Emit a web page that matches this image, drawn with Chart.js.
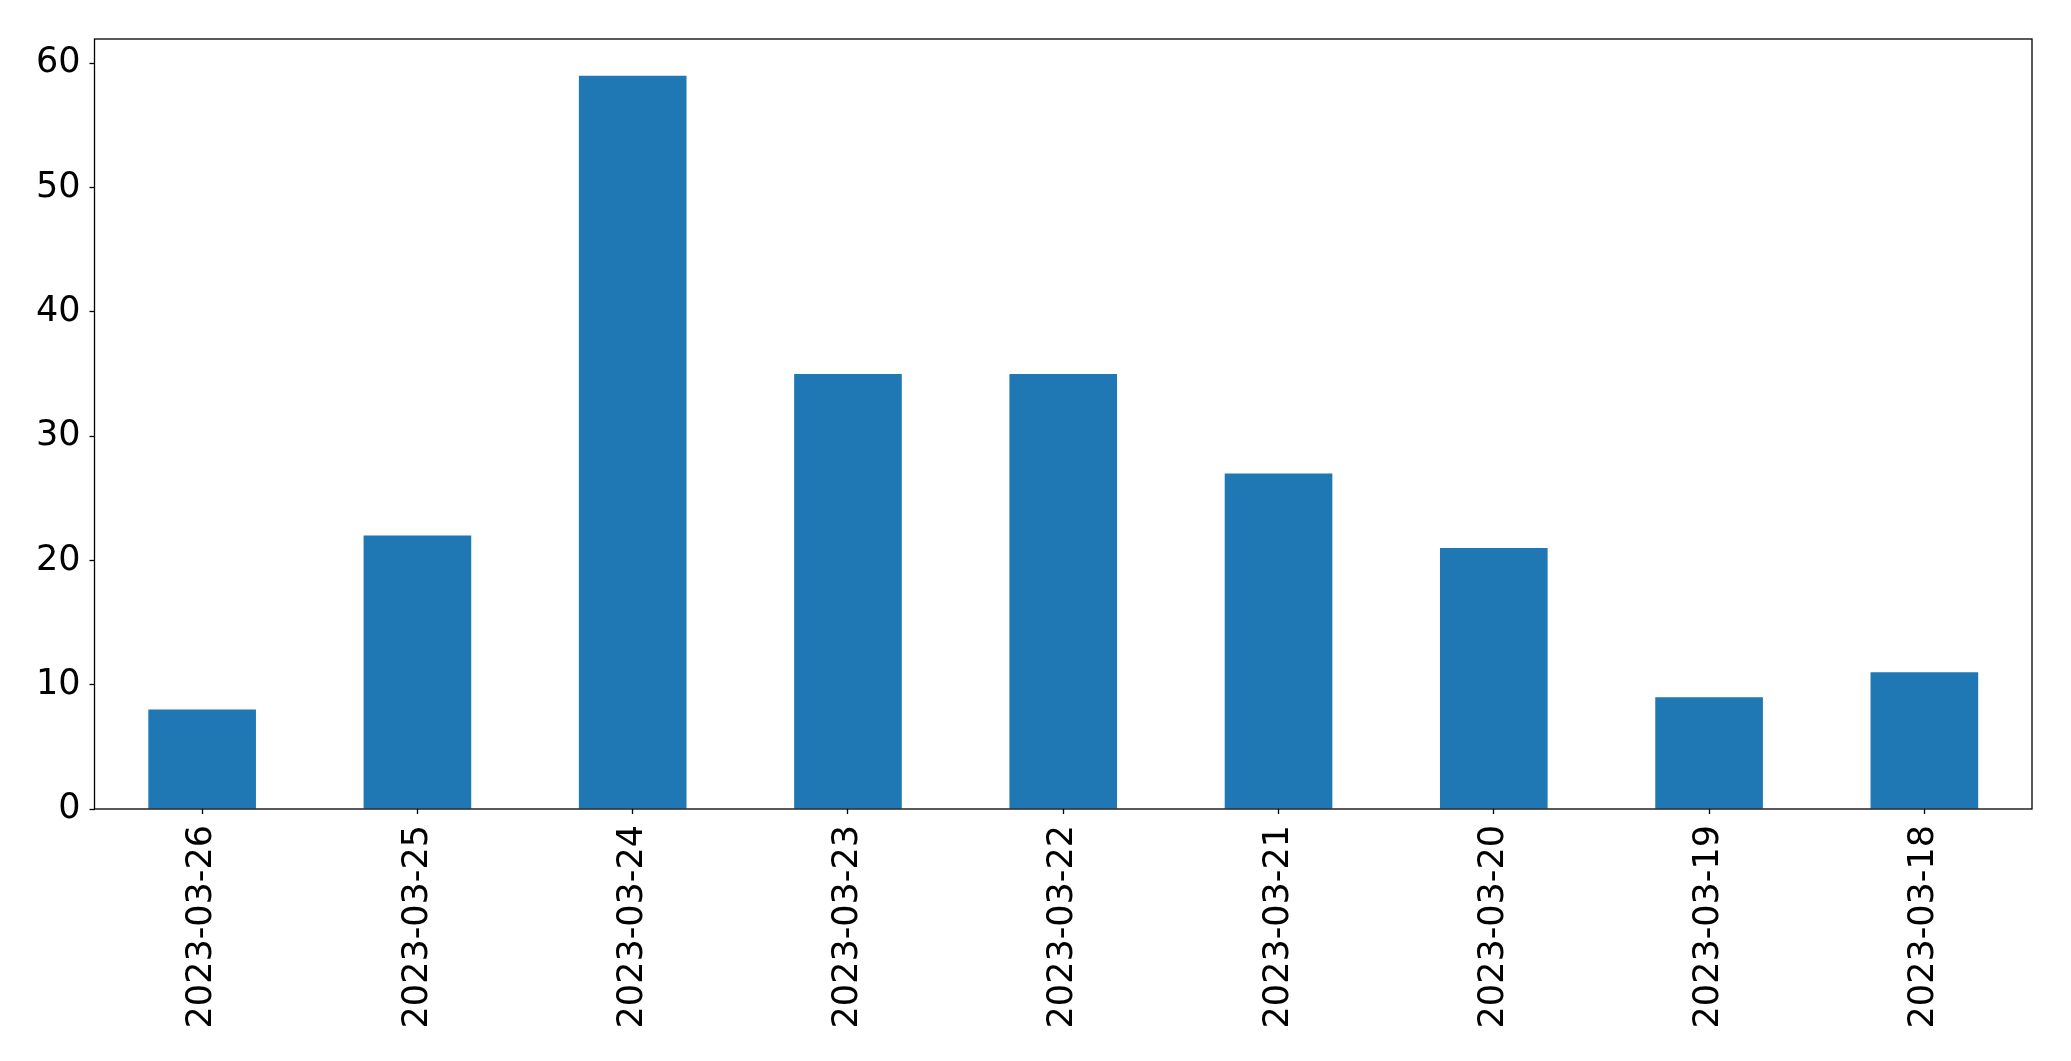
<!DOCTYPE html>
<html>
<head>
  <title>Bar chart</title>
  <script src="https://cdn.jsdelivr.net/npm/chart.js"></script>
  <style>
    html, body { margin: 0; padding: 0; background: #ffffff; }
    #wrap { width: 2071px; height: 1061px; }
  </style>
</head>
<body>
  <div id="wrap"><canvas id="myChart"></canvas></div>
  <script>
    // datos
    var fechas = ['2023-03-26', '2023-03-25', '2023-03-24', '2023-03-23', '2023-03-22',
                  '2023-03-21', '2023-03-20', '2023-03-19', '2023-03-18'];
    var valores = [8, 22, 59, 35, 35, 27, 21, 9, 11];
    var ticksY = [0, 10, 20, 30, 40, 50, 60];

    var fuente = { family: 'DejaVu Sans', size: 35 };

    // marco negro alrededor del area del grafico
    var marco = {
      id: 'marco',
      afterDraw: function(chart) {
        var a = chart.chartArea;
        var ctx = chart.ctx;
        ctx.save();
        ctx.strokeStyle = '#000000';
        ctx.lineWidth = 1.3;
        ctx.strokeRect(a.left, a.top, a.right - a.left, a.bottom - a.top);
        ctx.restore();
      }
    };

    var ctx = document.getElementById('myChart').getContext('2d');
    new Chart(ctx, {
      type: 'bar',
      data: {
        labels: fechas,
        datasets: [{
          data: valores,
          backgroundColor: '#1f77b4',
          borderWidth: 0,
          barPercentage: 0.5,
          categoryPercentage: 1.0
        }]
      },
      options: {
        responsive: true,
        maintainAspectRatio: false,
        animation: false,
        layout: { padding: { left: 0, right: 39, top: 39, bottom: 0 } },
        plugins: { legend: { display: false }, tooltip: { enabled: false } },
        scales: {
          x: {
            offset: true,
            grid: { display: true, offset: false, drawOnChartArea: false, drawTicks: true, tickLength: 5, tickColor: '#000000', tickWidth: 1.3 },
            border: { display: false },
            ticks: { color: '#000000', font: fuente, maxRotation: 90, minRotation: 90, padding: 11, autoSkip: false },
            afterFit: function(scale) { scale.height = 252; }
          },
          y: {
            min: 0,
            max: 61.95,
            afterBuildTicks: function(scale) {
              scale.ticks = ticksY.map(function(v) { return { value: v }; });
            },
            grid: { display: true, drawOnChartArea: false, drawTicks: true, tickLength: 5, tickColor: '#000000', tickWidth: 1.3 },
            border: { display: false },
            ticks: { color: '#000000', font: fuente, padding: 9 },
            afterFit: function(scale) { scale.width = 94.5; }
          }
        }
      },
      plugins: [marco]
    });
  </script>
</body>
</html>
